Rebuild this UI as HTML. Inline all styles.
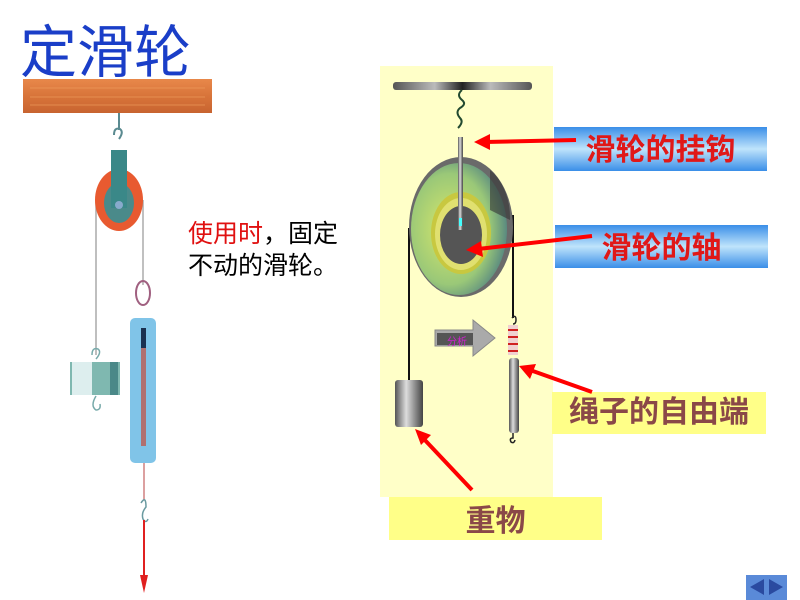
<!DOCTYPE html>
<html><head><meta charset="utf-8"><style>
body{margin:0;width:800px;height:600px;background:#fff;overflow:hidden;position:relative;font-family:"Liberation Sans","Noto Sans CJK SC",sans-serif}
.t{position:absolute;white-space:nowrap}
</style></head><body>
<svg width="800" height="600" style="position:absolute;left:0;top:0">
<defs>
<linearGradient id="wood" x1="0" y1="0" x2="0" y2="1"><stop offset="0" stop-color="#e8884a"/><stop offset=".5" stop-color="#d8743a"/><stop offset="1" stop-color="#c86430"/></linearGradient>
<linearGradient id="blue" x1="0" y1="0" x2="0" y2="1"><stop offset="0" stop-color="#3a8ee8"/><stop offset=".5" stop-color="#bfe4fb"/><stop offset="1" stop-color="#3a8ee8"/></linearGradient>
<linearGradient id="bar" x1="0" y1="0" x2="1" y2="0"><stop offset="0" stop-color="#555"/><stop offset=".3" stop-color="#bbb"/><stop offset=".5" stop-color="#222"/><stop offset=".7" stop-color="#bbb"/><stop offset="1" stop-color="#555"/></linearGradient>
<linearGradient id="metal" x1="0" y1="0" x2="1" y2="0"><stop offset="0" stop-color="#555"/><stop offset=".4" stop-color="#ddd"/><stop offset="1" stop-color="#444"/></linearGradient>
<radialGradient id="wheel" cx=".4" cy=".5" r=".6"><stop offset="0" stop-color="#d8e86a"/><stop offset=".7" stop-color="#9ac878"/><stop offset="1" stop-color="#5a8a80"/></radialGradient>
</defs>
<rect x="23" y="79" width="189" height="34" fill="url(#wood)"/>
<path d="M30 88H205M30 97H205M30 105H205" stroke="#f0a060" stroke-width="1" opacity=".6"/>
<line x1="119" y1="113" x2="119" y2="130" stroke="#5a8a90" stroke-width="2"/>
<path d="M114 135 q0 -8 6 -6 q4 3 -1 10" fill="none" stroke="#5a8a90" stroke-width="2"/>
<line x1="96" y1="200" x2="96" y2="355" stroke="#aaa" stroke-width="1.5"/>
<line x1="143" y1="200" x2="143" y2="285" stroke="#aaa" stroke-width="1.5"/>
<ellipse cx="119" cy="200" rx="24" ry="31" fill="#e85a30"/>
<ellipse cx="119" cy="203" rx="15" ry="20" fill="#4a8a8a"/>
<rect x="111" y="150" width="16" height="58" fill="#3a8888"/>
<circle cx="119" cy="205" r="4" fill="#8ac"/>
<ellipse cx="143" cy="293" rx="7" ry="12" fill="none" stroke="#a06080" stroke-width="2"/>
<rect x="130" y="318" width="26" height="145" rx="5" fill="#80c4e8"/>
<rect x="141" y="328" width="5" height="118" fill="#b07070"/>
<rect x="141" y="328" width="5" height="20" fill="#1a3050"/>
<line x1="144" y1="463" x2="144" y2="500" stroke="#d08080" stroke-width="1.5"/>
<path d="M141 503 q5 -8 5 4 q-5 6 -3 12 q3 5 5 0" fill="none" stroke="#6a9aa0" stroke-width="1.5"/>
<line x1="144" y1="520" x2="144" y2="580" stroke="#e02020" stroke-width="2"/>
<path d="M140 575 L144 593 L148 575Z" fill="#e02020"/>
<path d="M92 355 q0 -8 6 -6 q4 3 -2 10" fill="none" stroke="#7aa" stroke-width="1.5"/>
<rect x="70" y="362" width="50" height="33" fill="#7fb8b0"/>
<rect x="72" y="362" width="20" height="33" fill="#dee"/>
<rect x="110" y="362" width="8" height="33" fill="#4a8888"/>
<path d="M96 396 q-6 10 0 14 q5 0 4 -6" fill="none" stroke="#7aa" stroke-width="1.5"/>
<rect x="380" y="66" width="173" height="431" fill="#ffffc8"/>
<rect x="393" y="82" width="139" height="8" rx="3" fill="url(#bar)"/>
<path d="M462 90 q-6 5 0 10 q5 4 -2 8 q-5 4 0 10 q4 4 -2 10" fill="none" stroke="#224a30" stroke-width="2"/>
<line x1="409" y1="228" x2="409" y2="380" stroke="#111" stroke-width="2"/>
<line x1="513" y1="215" x2="513" y2="318" stroke="#111" stroke-width="2"/>
<ellipse cx="461" cy="227" rx="52" ry="70" fill="#6a6a6a"/>
<ellipse cx="459" cy="229" rx="48" ry="66" fill="url(#wheel)"/>
<path d="M490 170 a40 55 0 0 1 20 50 l-20 -10z" fill="#333" opacity=".6"/>
<ellipse cx="461" cy="233" rx="30" ry="41" fill="#c8c840"/>
<ellipse cx="461" cy="234" rx="26" ry="36" fill="#e0e070"/>
<ellipse cx="461" cy="235" rx="21" ry="29" fill="#555"/>
<rect x="458" y="137" width="5" height="93" fill="url(#metal)"/>
<rect x="459" y="218" width="3" height="8" fill="#4ff"/>
<rect x="395" y="380" width="28" height="47" rx="3" fill="url(#metal)"/>
<rect x="508" y="325" width="10" height="30" fill="#f0d0d0"/>
<path d="M508 330h10M508 337h10M508 344h10M508 351h10" stroke="#d02020" stroke-width="2"/>
<rect x="509" y="358" width="10" height="75" rx="3" fill="url(#metal)"/>
<path d="M512 318 q4 -4 4 2 q0 4 -3 4" fill="none" stroke="#222" stroke-width="1.5"/>
<path d="M513 433 v5 q-4 0 -2 4 q3 2 4 -2" fill="none" stroke="#222" stroke-width="1.5"/>
<path d="M435 330 h38 v-10 l22 18 l-22 18 v-10 h-38z" fill="#aaa" stroke="#888"/>
<path d="M437 333 h36 v12 h-36z" fill="#555"/>
<text x="447" y="345" font-size="10" fill="#d020d0" font-family="Noto Sans CJK SC,sans-serif">分析</text>
<rect x="554" y="127" width="213" height="44" fill="url(#blue)"/>
<rect x="555" y="225" width="213" height="43" fill="url(#blue)"/>
<rect x="552" y="392" width="214" height="42" fill="#ffff88"/>
<rect x="389" y="497" width="213" height="43" fill="#ffff88"/>
<g stroke="#f00" stroke-width="4" fill="#f00">
<line x1="576" y1="140" x2="485" y2="142"/><path d="M474 142 L490 134 L490 150Z" stroke="none"/>
<line x1="592" y1="236" x2="478" y2="249"/><path d="M466 250 L481 241 L483 257Z" stroke="none"/>
<line x1="592" y1="392" x2="530" y2="370"/><path d="M519 366 L536 364 L530 379Z" stroke="none"/>
<line x1="472" y1="490" x2="422" y2="437"/><path d="M415 429 L431 435 L421 445Z" stroke="none"/>
</g>
<rect x="746" y="575" width="41" height="25" fill="#5a8ad8"/>
<path d="M750 587 l14 -8 v16z M783 587 l-14 -8 v16z" fill="#2a4aa0"/>
</svg>
<div class="t" style="left:20px;top:18px;font-size:57px;line-height:70px;color:#1a3ec8">定滑轮</div>
<div class="t" style="left:188px;top:218px;font-size:25px;line-height:32px;color:#000"><span style="color:#e01010">使用时</span>，固定<br>不动的滑轮。</div>
<div class="t" style="left:554px;top:134px;width:213px;text-align:center;font-size:30px;font-weight:bold;color:#e01818;line-height:34px">滑轮的挂钩</div>
<div class="t" style="left:555px;top:232px;width:213px;text-align:center;font-size:30px;font-weight:bold;color:#e01818;line-height:34px">滑轮的轴</div>
<div class="t" style="left:552px;top:396px;width:214px;text-align:center;font-size:30px;font-weight:bold;color:#8a4848;line-height:34px">绳子的自由端</div>
<div class="t" style="left:389px;top:505px;width:213px;text-align:center;font-size:30px;font-weight:bold;color:#8a4848;line-height:34px">重物</div>
</body></html>
